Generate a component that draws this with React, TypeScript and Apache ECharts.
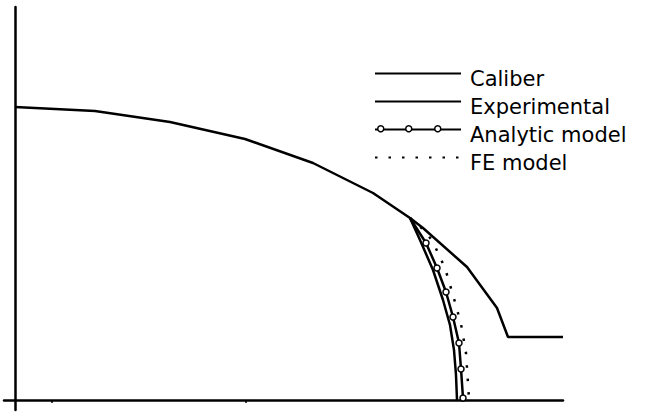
import React, { useEffect, useRef } from "react";
import * as echarts from "echarts";

// Units: horizontal / vertical distance from the axes' crossing point
const seriesNames = ["Caliber", "Experimental", "Analytic model", "FE model"];

const caliber: number[][] = [
  [0, 293], [80, 289], [155, 278], [230, 261], [298, 237], [358, 207],
  [395, 182], [408, 172], [452, 133], [482, 92], [493, 63], [548, 63],
];
const experimental: number[][] = [
  [395, 182], [405, 160], [418, 130], [428, 100], [435, 75], [439, 50], [441, 25], [442, 0],
];
const analytic: number[][] = [
  [395, 182], [411, 157], [422, 132], [431, 108], [438, 83], [444, 57], [446, 31], [448, 2],
];
const feModel: number[][] = [
  [395, 182], [410, 169], [418, 158], [430, 132], [438, 105], [446, 76], [451, 47], [453, 17], [454, 0],
];
const xTicks = [37, 231];
// positions of the marker rings on the "Analytic model" legend sample (px from legend line start)
const legendRingOffsets = [6, 34, 63];

export default function App() {
  const ref = useRef<HTMLDivElement>(null);
  useEffect(() => {
    if (!ref.current) return;
    const chart = echarts.init(ref.current, undefined, { renderer: "svg" });
    const black = "#000";
    const baseLine = { color: black, width: 2.5 };
    const legendLeft = 369;
    const legendTop = 53;
    const rowH = 28;
    const hidden = { opacity: 0 };
    chart.setOption({
      animation: false,
      backgroundColor: "#fff",
      grid: { left: 4, right: 83, top: 7, bottom: 3, containLabel: false },
      legend: {
        orient: "vertical",
        left: legendLeft,
        top: legendTop,
        itemWidth: 86,
        itemHeight: 14,
        itemGap: -3,
        inactiveColor: "#000",
        selectedMode: false,
        data: seriesNames.map((n) => ({ name: n, itemStyle: hidden })),
        formatter: (name: string) => `{t|${name}}`,
        textStyle: {
          color: black,
          rich: {
            t: {
              fontFamily: "DejaVu Sans",
              fontSize: 21,
              color: black,
              lineHeight: 18,
              padding: [10, 0, 0, 4],
            },
          },
        },
      },
      graphic: legendRingOffsets.map((dx) => ({
        type: "circle",
        left: legendLeft + 5 + dx - 3,
        top: legendTop + 5 + 7 + 2 * rowH + 7 - 3,
        shape: { r: 3 },
        style: { fill: "#fff", stroke: black, lineWidth: 1.5 },
        z: 100,
      })),
      xAxis: {
        type: "value",
        min: -11,
        max: 548,
        splitLine: { show: false },
        axisLabel: { show: false },
        axisLine: { show: true, onZero: true, lineStyle: { color: black, width: 2.5 } },
        axisTick: { show: true, customValues: xTicks, length: 3, lineStyle: { color: black, width: 1.5 } },
      },
      yAxis: {
        type: "value",
        min: -10,
        max: 393,
        splitLine: { show: false },
        axisLabel: { show: false },
        axisTick: { show: false },
        axisLine: { show: true, onZero: true, lineStyle: { color: black, width: 2.5 } },
      },
      series: [
        {
          name: seriesNames[0],
          type: "line",
          data: caliber,
          symbol: "none",
          lineStyle: { ...baseLine },
          itemStyle: { color: black },
        },
        {
          name: seriesNames[1],
          type: "line",
          data: experimental,
          symbol: "none",
          lineStyle: { ...baseLine },
          itemStyle: { color: black },
        },
        {
          name: seriesNames[2],
          type: "line",
          data: analytic.map((p, i) => (i === 0 ? { value: p, symbol: "none" } : p)),
          symbol: "circle",
          symbolSize: 6,
          showSymbol: true,
          lineStyle: { ...baseLine },
          itemStyle: { color: "#fff", borderColor: black, borderWidth: 1.5 },
        },
        {
          name: seriesNames[3],
          type: "line",
          data: feModel,
          symbol: "none",
          lineStyle: { color: black, width: 2.5, type: [2.5, 11] },
          itemStyle: { color: black },
        },
      ],
    });
    return () => chart.dispose();
  }, []);
  return (
    <div
      ref={ref}
      style={{ position: "fixed", left: 0, top: 0, width: 646, height: 413 }}
    />
  );
}
